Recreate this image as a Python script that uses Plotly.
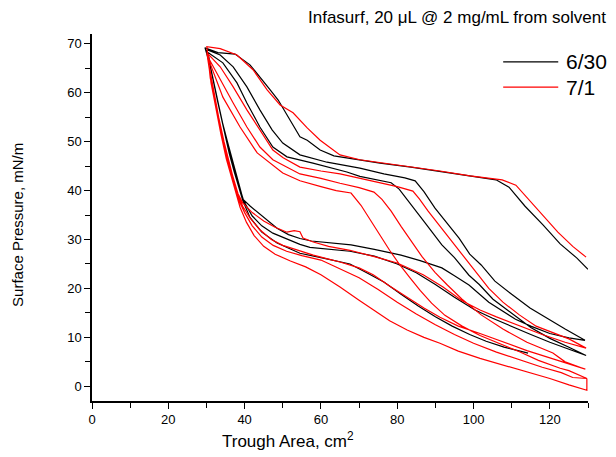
import plotly.graph_objects as go

# ---- data: 6/30 (black), continuous compression/expansion path ----
black_area = [
    130.0, 127.1, 122.7, 118.2, 113.5, 109.3, 105.9, 99.1, 91.2, 83.6, 75.5, 67.6, 63.4, 59.8, 56.4, 54.5,
    51.4, 48.8, 46.7, 44.0, 41.4, 37.5, 33.0, 29.6,
    31.0, 32.5, 34.0, 35.5, 36.5, 37.8, 38.8, 39.6, 41.5, 43.3, 46.0, 48.5, 51.5, 54.5, 57.5, 62.0, 67.9,
    74.0, 81.0, 86.0, 91.7, 95.0, 98.8, 104.0, 111.0, 115.0, 120.0, 125.0, 129.2,
    124.0, 119.0, 114.8, 110.0, 105.6, 102.0, 99.0, 96.2, 93.0, 89.9, 87.0, 84.7, 82.0, 76.5, 70.2, 61.6,
    54.5, 50.0, 47.2, 44.0, 40.6, 37.0, 33.6, 30.1,
    31.2, 32.7, 34.2, 35.6, 36.8, 38.0, 39.0, 39.8, 42.0, 44.5, 47.4, 51.9, 54.5, 57.1, 62.0, 67.6, 74.0,
    80.0, 85.0, 90.0, 95.0, 100.4, 105.0, 110.0, 115.0, 120.0, 125.0, 129.5,
    125.0, 120.0, 115.0, 111.1, 105.1, 101.5, 98.8, 95.0, 91.7, 87.5, 83.6, 80.5, 78.4, 75.0, 70.2, 66.8,
    62.0, 57.9, 51.1, 47.4, 44.0, 40.6, 38.0, 34.3, 30.4,
    31.5, 33.0, 34.5, 36.0, 37.3, 38.5, 39.5, 41.4, 44.5, 48.5, 54.5, 60.6, 67.6, 72.0, 76.5, 81.0, 85.5,
    90.0, 94.4, 99.0, 103.3, 108.0, 114.3,
]
black_pressure = [
    23.9, 26.2, 29.1, 33.0, 36.8, 40.7, 42.2, 43.0, 44.0, 44.8, 45.6, 46.5, 47.1, 48.3, 50.3, 51.0,
    55.1, 58.5, 60.6, 63.2, 65.7, 67.9, 68.2, 69.2,
    65.5, 60.0, 54.5, 50.0, 47.0, 43.5, 40.5, 38.2, 36.8, 35.6, 33.8, 32.3, 31.0, 30.2, 29.7, 29.4, 28.9,
    28.0, 26.8, 25.7, 24.2, 22.6, 20.7, 17.2, 13.7, 12.3, 10.8, 9.9, 9.4,
    11.7, 14.0, 16.0, 18.8, 21.5, 24.8, 27.0, 30.3, 33.5, 36.4, 39.8, 42.0, 42.6, 43.4, 44.6, 45.8,
    47.3, 49.7, 52.4, 56.5, 61.2, 65.3, 67.7, 68.8,
    64.5, 59.0, 53.5, 49.0, 45.5, 42.5, 39.8, 37.8, 34.8, 32.8, 31.3, 29.9, 29.0, 28.4, 28.0, 27.6, 26.6,
    25.0, 23.2, 20.8, 18.2, 15.6, 13.9, 12.2, 10.6, 9.0, 7.6, 6.3,
    8.0, 9.8, 12.0, 14.3, 17.8, 20.8, 22.7, 26.3, 28.9, 33.2, 37.2, 40.3, 41.6, 42.2, 42.9, 43.8,
    44.8, 45.6, 46.9, 48.9, 53.0, 57.9, 62.0, 66.1, 68.2,
    63.5, 58.0, 52.5, 47.5, 43.8, 40.5, 38.0, 34.5, 31.5, 29.3, 27.2, 26.2, 25.0, 23.2, 21.3, 18.8, 16.4,
    14.2, 12.3, 10.6, 9.2, 8.0, 6.8,
]

# ---- data: 7/1 (red) ----
red_area = [
    129.5, 126.0, 122.1, 118.5, 114.8, 111.1, 107.5, 99.1, 91.2, 83.6, 75.5, 70.2, 65.0, 59.8, 56.4, 52.7,
    49.3, 45.9, 42.2, 38.0, 33.6, 30.1,
    30.6, 31.8, 33.2, 34.6, 36.0, 37.2, 38.3, 39.5, 42.0, 45.0, 48.0, 51.1, 53.0, 54.5, 55.3, 58.0, 62.0,
    67.6, 74.0, 80.0, 86.8, 92.0, 97.0, 101.7, 106.0, 112.0, 118.0, 124.0, 129.5,
    125.0, 120.8, 116.4, 112.0, 107.7, 104.0, 100.7, 97.0, 93.6, 90.8, 88.1, 85.8, 84.1, 80.0, 75.0, 70.0,
    65.0, 60.0, 54.5, 50.1, 47.4, 44.0, 40.6, 37.0, 33.6, 30.1,
    30.8, 32.0, 33.4, 34.8, 36.2, 37.5, 38.6, 39.5, 41.5, 44.0, 47.0, 50.0, 54.0, 58.0, 62.0, 65.0, 70.0,
    73.7, 78.0, 82.6, 87.0, 91.2, 96.0, 101.7, 108.0, 114.0, 120.0, 125.0, 129.3,
    124.0, 120.8, 114.0, 107.7, 102.0, 97.0, 93.0, 89.9, 86.5, 83.6, 81.0, 78.4, 76.0, 73.9, 70.0, 65.0,
    60.0, 54.5, 50.0, 47.4, 44.0, 40.6, 37.0, 33.6, 30.4,
    31.0, 32.3, 33.6, 35.0, 36.4, 37.6, 38.8, 40.0, 42.0, 44.5, 47.5, 51.0, 55.0, 60.0, 65.0, 70.0, 75.0,
    80.0, 85.0, 90.0, 95.0, 100.0, 106.0, 112.0, 118.0, 123.0, 126.0, 129.7,
    125.0, 122.7, 117.0, 112.2, 107.0, 101.7, 97.0, 92.5, 89.0, 86.0, 83.3, 80.7, 78.0, 75.5, 73.0, 70.5,
    67.9, 64.0, 60.0, 54.5, 50.0, 47.4, 43.3, 38.8, 34.3, 30.9, 30.2,
    31.2, 32.5, 33.8, 35.2, 36.6, 37.8, 38.8, 40.5, 42.5, 45.0, 48.0, 52.0, 56.0, 60.0, 65.0, 70.0, 73.7,
    78.0, 82.6, 87.0, 91.2, 96.0, 101.7, 108.0, 114.0, 120.0, 125.0, 129.7, 129.7,
]
red_pressure = [
    26.4, 28.6, 31.5, 34.7, 37.9, 41.1, 42.2, 43.0, 44.0, 44.8, 45.6, 46.3, 47.3, 50.3, 52.8, 55.9,
    57.5, 60.6, 64.7, 67.7, 69.0, 69.4,
    66.0, 60.5, 55.0, 50.0, 45.5, 42.0, 39.3, 37.5, 35.5, 33.8, 32.5, 31.5, 31.8, 31.6, 30.3, 29.5, 28.6,
    27.8, 26.5, 25.2, 22.8, 20.3, 17.5, 15.6, 14.2, 12.4, 10.6, 9.0, 7.8,
    9.7, 11.0, 12.3, 14.6, 17.2, 20.0, 23.3, 26.8, 30.3, 33.0, 35.8, 38.3, 39.9, 40.8, 41.7, 42.6,
    43.4, 44.0, 44.8, 46.7, 48.3, 52.4, 56.5, 61.2, 65.3, 68.2,
    64.5, 59.5, 54.0, 49.0, 44.8, 41.2, 38.5, 36.8, 34.3, 32.0, 30.0, 28.8, 27.8, 26.8, 26.0, 25.4, 24.2,
    22.8, 20.5, 18.2, 16.0, 14.1, 12.3, 10.8, 9.0, 7.3, 5.8, 4.6, 3.5,
    5.0, 6.8, 9.0, 11.7, 14.6, 17.8, 20.8, 23.3, 26.5, 29.7, 32.7, 35.8, 38.2, 39.7, 40.6, 41.5,
    42.5, 43.4, 45.3, 46.3, 48.9, 53.0, 57.9, 62.6, 67.3,
    63.0, 58.0, 53.0, 48.0, 43.8, 40.5, 37.5, 35.5, 32.8, 30.5, 28.8, 27.6, 26.7, 25.8, 24.0, 22.2, 19.8,
    17.2, 14.8, 12.6, 10.6, 8.8, 7.0, 5.4, 3.9, 2.8, 1.8, 1.6,
    3.2, 3.7, 5.3, 7.0, 8.7, 10.4, 12.3, 14.5, 17.0, 19.6, 22.2, 24.8, 27.8, 30.9, 34.0, 37.0,
    39.5, 40.0, 40.8, 42.0, 43.6, 45.2, 47.7, 53.0, 59.1, 66.1, 68.5,
    62.0, 56.5, 51.5, 46.5, 42.5, 39.5, 36.6, 33.5, 30.8, 28.6, 27.0, 25.6, 24.4, 22.8, 20.3, 17.6, 15.6,
    13.4, 11.5, 10.0, 8.8, 7.2, 5.7, 4.3, 3.0, 1.6, 0.3, -0.8, 1.6,
]

series_names = ["6/30", "7/1"]
series_colors = ["#000000", "#ff0000"]
x_ticks = [0, 20, 40, 60, 80, 100, 120]
y_ticks = [0, 10, 20, 30, 40, 50, 60, 70]

FONT = "Liberation Sans, Arial, sans-serif"

fig = go.Figure()
for name, color, xs, ys in [
    (series_names[0], series_colors[0], black_area, black_pressure),
    (series_names[1], series_colors[1], red_area, red_pressure),
]:
    fig.add_trace(go.Scatter(x=xs, y=ys, mode="lines", name=name,
                             line=dict(color=color, width=1.2), showlegend=False))

fig.update_layout(
    width=616, height=457,
    margin=dict(l=92, r=28, t=34, b=56),
    paper_bgcolor="white", plot_bgcolor="white",
    font=dict(family=FONT, size=13, color="black"),
)
axis_common = dict(showgrid=False, zeroline=False, showline=True, linecolor="black", linewidth=1.5,
                   ticks="outside", ticklen=6, tickwidth=1.2, tickcolor="black",
                   tickfont=dict(family=FONT, size=13, color="black"))
fig.update_xaxes(range=[0, 130], tickvals=x_ticks, ticktext=[str(v) for v in x_ticks],
                 minor=dict(dtick=10, tick0=0, ticks="outside", ticklen=5, tickcolor="black", tickwidth=1.2),
                 **axis_common)
fig.update_yaxes(range=[-3, 72], tickvals=y_ticks, ticktext=[str(v) for v in y_ticks],
                 minor=dict(dtick=5, tick0=0, ticks="outside", ticklen=5, tickcolor="black", tickwidth=1.2),
                 **axis_common)

# titles
fig.add_annotation(text="Infasurf, 20 \u03bcL @ 2 mg/mL from solvent", xref="paper", yref="paper",
                   x=1.040, y=1.044, xanchor="right", yanchor="middle", showarrow=False,
                   font=dict(family=FONT, size=17, color="black"))
fig.add_annotation(text="Trough Area, cm<sup>2</sup>", xref="paper", yref="paper",
                   x=0.395, y=-0.106, xanchor="center", yanchor="middle", showarrow=False,
                   font=dict(family=FONT, size=17, color="black"))
fig.add_annotation(text="Surface Pressure, mN/m", xref="paper", yref="paper",
                   x=-0.149, y=0.48, xanchor="center", yanchor="middle", textangle=-90, showarrow=False,
                   font=dict(family=FONT, size=15, color="black"))

# legend (drawn manually to match the original line length)
leg_y = [0.924, 0.855]
for name, color, yy in zip(series_names, series_colors, leg_y):
    fig.add_shape(type="line", xref="paper", yref="paper", x0=0.829, x1=0.940, y0=yy, y1=yy,
                  line=dict(color=color, width=1.2))
    fig.add_annotation(text=name, xref="paper", yref="paper", x=0.952, y=yy, xanchor="left",
                       yanchor="middle", showarrow=False, font=dict(family=FONT, size=21, color="black"))

fig.write_html("out.html")
